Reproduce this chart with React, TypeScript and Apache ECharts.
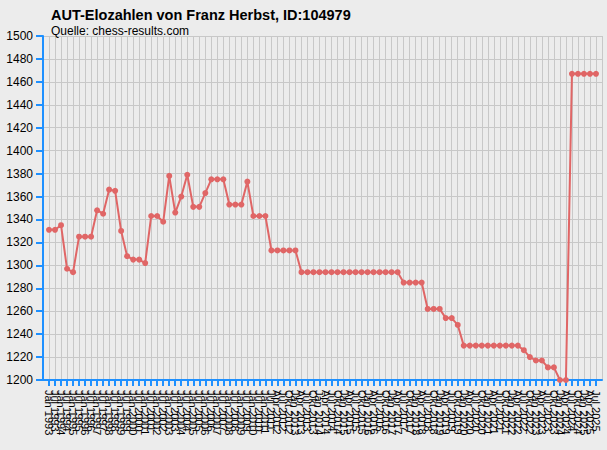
import React, { useEffect, useRef } from "react";
import * as echarts from "echarts";

const titleText = "AUT-Elozahlen von Franz Herbst, ID:104979";
const subText = "Quelle: chess-results.com";

// Semiannual lists Jan 1993 .. Jul 2011 (38), then quarterly Apr 2012 .. Jul 2025 (54)
const semiYears = [1993, 1994, 1995, 1996, 1997, 1998, 1999, 2000, 2001, 2002, 2003, 2004, 2005, 2006, 2007, 2008, 2009, 2010, 2011];
const semiMonths = ["Jan", "Jul"];
const quarterYears = [2012, 2013, 2014, 2015, 2016, 2017, 2018, 2019, 2020, 2021, 2022, 2023, 2024, 2025];
const quarterMonths = ["Jan", "Apr", "Jul", "Okt"];

const ratings = [
  1331, 1331, 1335, 1297, 1294, 1325, 1325, 1325, 1348, 1345,
  1366, 1365, 1330, 1308, 1305, 1305, 1302, 1343, 1343, 1338,
  1378, 1346, 1360, 1379, 1351, 1351, 1363, 1375, 1375, 1375,
  1353, 1353, 1353, 1373, 1343, 1343, 1343, 1313, 1313, 1313,
  1313, 1313, 1294, 1294, 1294, 1294, 1294, 1294, 1294, 1294,
  1294, 1294, 1294, 1294, 1294, 1294, 1294, 1294, 1294, 1285,
  1285, 1285, 1285, 1262, 1262, 1262, 1254, 1254, 1248, 1230,
  1230, 1230, 1230, 1230, 1230, 1230, 1230, 1230, 1230, 1226,
  1220, 1217, 1217, 1211, 1211, 1200, 1200, 1467, 1467, 1467,
  1467, 1467,
];

const yMin = 1200;
const yMax = 1500;
const yStep = 20;

function buildLabels(): string[] {
  const out: string[] = [];
  for (const y of semiYears) for (const m of semiMonths) out.push(`${m} ${y}`);
  for (const y of quarterYears) {
    for (const m of quarterMonths) {
      if (y === 2012 && m === "Jan") continue;
      if (y === 2025 && m === "Okt") continue;
      out.push(`${m} ${y}`);
    }
  }
  return out;
}

export default function App() {
  const ref = useRef<HTMLDivElement>(null);
  useEffect(() => {
    if (!ref.current) return;
    const chart = echarts.init(ref.current, null, { renderer: "svg" });
    const labels = buildLabels();
    const cats = ["", ...labels, ""];
    const data = [null, ...ratings, null];
    const last = cats.length - 1;
    const font = "Liberation Sans, Arial, sans-serif";
    const blue = "#1E90FF";
    chart.setOption({
      animation: false,
      backgroundColor: "#ececec",
      title: [
        {
          text: titleText,
          left: 46,
          top: 2,
          textStyle: { fontSize: 14.5, fontWeight: "bold", color: "#000", fontFamily: font },
        },
        {
          text: subText,
          left: 46,
          top: 20,
          textStyle: { fontSize: 12, fontWeight: "normal", color: "#000", fontFamily: font },
        },
      ],
      grid: { left: 43, right: 5, top: 36, bottom: 70, containLabel: false },
      xAxis: {
        type: "category",
        data: cats,
        boundaryGap: false,
        axisLine: { show: true, lineStyle: { color: blue, width: 2 } },
        axisTick: {
          show: true,
          length: 6,
          lineStyle: { color: blue, width: 2 },
          interval: (i: number) => i > 0 && i < last,
        },
        axisLabel: {
          interval: 0,
          rotate: -90,
          margin: 10,
          fontSize: 11,
          color: "#000",
          fontFamily: font,
        },
        splitLine: {
          show: true,
          lineStyle: { color: "#c8c8c8", width: 1 },
          interval: (i: number) => i > 0,
        },
      },
      yAxis: {
        type: "value",
        min: yMin,
        max: yMax,
        interval: yStep,
        axisLine: { show: true, lineStyle: { color: blue, width: 2 } },
        axisTick: { show: true, length: 7, lineStyle: { color: blue, width: 2 } },
        axisLabel: {
          fontSize: 12,
          color: "#000",
          margin: 10,
          fontFamily: font,
          formatter: (v: number) => String(v),
        },
        splitLine: { show: true, lineStyle: { color: "#c8c8c8", width: 1 } },
      },
      series: [
        {
          type: "line",
          data,
          connectNulls: false,
          symbol: "circle",
          symbolSize: 6,
          showSymbol: true,
          lineStyle: { color: "#e06666", width: 2 },
          itemStyle: { color: "#e06666" },
        },
      ],
    });
    return () => chart.dispose();
  }, []);
  return (
    <div
      ref={ref}
      style={{ position: "fixed", left: 0, top: 0, width: 607, height: 450 }}
    />
  );
}
